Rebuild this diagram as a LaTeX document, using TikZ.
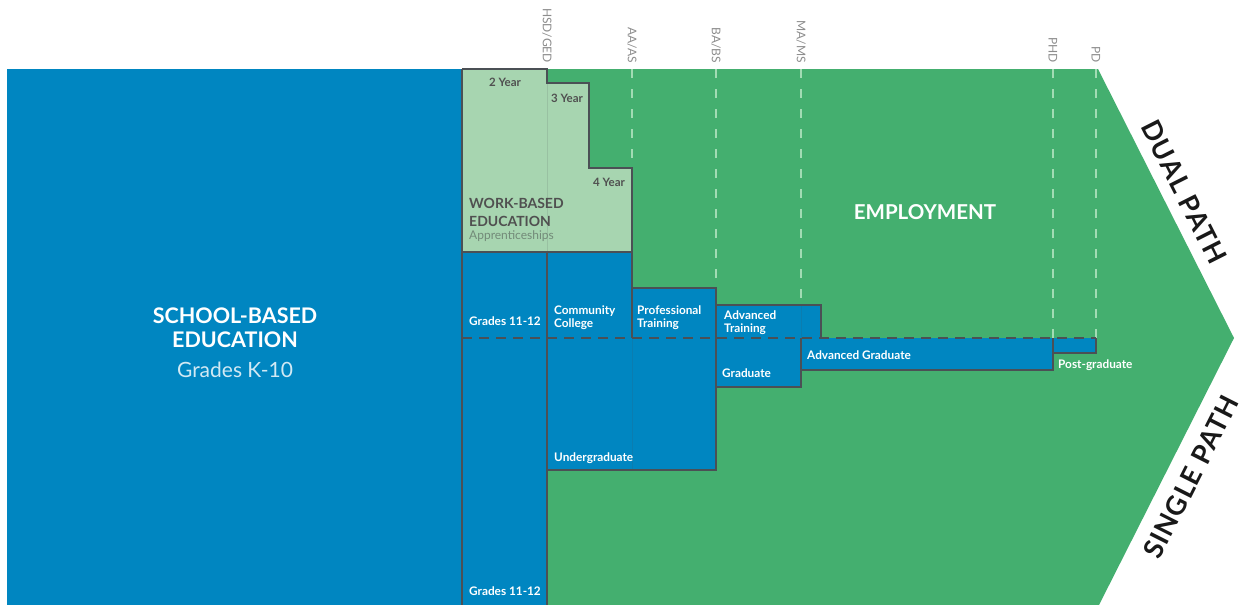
\documentclass[tikz,border=0pt]{standalone}
\usepackage{fontspec}
\setmainfont{Lato}
\newfontfamily\pathfont[LetterSpace=4]{Lato}
\definecolor{sbblue}{HTML}{0086C1}
\definecolor{empgreen}{HTML}{44AF6F}
\definecolor{wbgreen}{HTML}{A7D5B0}
\definecolor{edgec}{HTML}{4B5055}
\definecolor{guidec}{HTML}{A2DCB4}
\definecolor{toplabc}{HTML}{8C8C8C}
\definecolor{wbtext}{HTML}{505050}
\definecolor{apptext}{HTML}{728A78}
\begin{document}
\begin{tikzpicture}[x=1pt,y=-1pt,
  edgeline/.style={draw=edgec, line width=2.5pt, line join=miter},
  guideline/.style={draw=guidec, line width=1.8pt, dash pattern=on 9pt off 11pt},
  midline/.style={draw=edgec, line width=2.5pt, dash pattern=on 10pt off 7pt},
  faint/.style={draw=edgec, opacity=0.15, line width=0.8pt},
  boxlab/.style={text=white, font=\bfseries\fontsize{11.8}{14}\selectfont, anchor=base west, inner sep=0pt},
  yearlab/.style={text=wbtext, font=\bfseries\fontsize{11.5}{13}\selectfont, anchor=base, inner sep=0pt},
  wblab/.style={text=wbtext, font=\bfseries\fontsize{14}{16}\selectfont, anchor=base west, inner sep=0pt},
  toplab/.style={rotate=-90, anchor=east, text=toplabc, font=\fontsize{12}{14}\selectfont, inner sep=0pt},
  bigw/.style={text=white, font=\bfseries\fontsize{21.5}{24}\selectfont, anchor=base, inner sep=0pt},
  pathlab/.style={text=black!90, font=\pathfont\bfseries\fontsize{27}{30}\selectfont, inner sep=0pt}
]
\useasboundingbox (0,0) rectangle (1248,605);
\fill[white] (0,0) rectangle (1248,605);

% employment arrow
\fill[empgreen] (462,69) -- (1098,69) -- (1234,338) -- (1099,605) -- (462,605) -- cycle;
% school-based block
\fill[sbblue] (7,69) rectangle (462,605);

% work-based education
\fill[wbgreen] (462,69) -- (547,69) -- (547,83) -- (589,83) -- (589,168) -- (632,168) -- (632,252) -- (462,252) -- cycle;

% blue pathway boxes
\fill[sbblue] (462,252) rectangle (547,605);
\fill[sbblue] (547,252) rectangle (632,338);
\fill[sbblue] (547,338) rectangle (716,470);
\fill[sbblue] (632,288) rectangle (716,338);
\fill[sbblue] (716,305) rectangle (821,338);
\fill[sbblue] (716,338) rectangle (801,387);
\fill[sbblue] (801,338) rectangle (1053,370);
\fill[sbblue] (1053,338) rectangle (1096,353);

% guide lines
\draw[guideline] (632,69) -- (632,168);
\draw[guideline] (716,69) -- (716,288);
\draw[guideline] (801,69) -- (801,305);
\draw[guideline] (1053,69) -- (1053,338);
\draw[guideline] (1096,69) -- (1096,338);

% faint inner lines
\draw[faint] (547,83) -- (547,252);
\draw[faint] (632,338) -- (632,470);
\draw[faint] (801,305) -- (801,338);

% outlines
\draw[edgeline] (462,69) -- (462,605);
\draw[edgeline] (462,69) -- (547,69) -- (547,83) -- (589,83) -- (589,168) -- (632,168) -- (632,338);
\draw[edgeline] (462,252) -- (632,252);
\draw[edgeline] (547,252) -- (547,605);
\draw[edgeline] (632,288) -- (716,288) -- (716,470) -- (547,470);
\draw[edgeline] (716,305) -- (821,305) -- (821,338);
\draw[edgeline] (716,387) -- (801,387) -- (801,338);
\draw[edgeline] (801,370) -- (1053,370) -- (1053,338);
\draw[edgeline] (1053,353) -- (1096,353) -- (1096,338);
\draw[midline] (462,338) -- (1096,338);

% top degree labels
\node[toplab] (hsd) at (547,63) {HSD/GED};
\node[toplab] (aaas) at (632,63) {AA/AS};
\node[toplab] (babs) at (716,63) {BA/BS};
\node[toplab] (mams) at (801,63) {MA/MS};
\node[toplab] (phd) at (1053,63) {PHD};
\node[toplab] (pd) at (1096,63) {PD};

% school-based
\node[bigw] (sb1) at (235,323) {SCHOOL-BASED};
\node[bigw] (sb2) at (235,347) {EDUCATION};
\node[anchor=base, inner sep=0pt, text=white!82!sbblue, font=\fontsize{21}{24}\selectfont] (sb3) at (235,377) {Grades K-10};

% work-based
\node[yearlab] (y2) at (505,86) {2 Year};
\node[yearlab] (y3) at (567,102) {3 Year};
\node[yearlab] (y4) at (609,186) {4 Year};
\node[wblab] (wb1) at (469,208) {WORK-BASED};
\node[wblab] (wb2) at (469,226) {EDUCATION};
\node[anchor=base west, inner sep=0pt, text=apptext, font=\fontsize{12}{14}\selectfont] (wb3) at (469,239) {Apprenticeships};

% employment
\node[text=white, font=\bfseries\fontsize{20.5}{24}\selectfont, anchor=base, inner sep=0pt] (emp) at (925,219) {EMPLOYMENT};

% box labels
\node[boxlab] (gr1) at (469,325) {Grades 11-12};
\node[boxlab] (cc1) at (554,314) {Community};
\node[boxlab] (cc2) at (554,327) {College};
\node[boxlab] (pt1) at (637,314) {Professional};
\node[boxlab] (pt2) at (637,327) {Training};
\node[boxlab] (at1) at (724,319) {Advanced};
\node[boxlab] (at2) at (724,332) {Training};
\node[boxlab] (gd) at (722,377) {Graduate};
\node[boxlab] (ag) at (807,359) {Advanced Graduate};
\node[boxlab] (pg) at (1058,368) {Post-graduate};
\node[boxlab] (ug) at (554,461) {Undergraduate};
\node[boxlab] (gr2) at (469,595) {Grades 11-12};

% path labels
\node[pathlab, rotate=-63.2] (dual) at (1184,192) {DUAL PATH};
\node[pathlab, rotate=63.2] (single) at (1191,477) {SINGLE PATH};
\end{tikzpicture}
\end{document}
